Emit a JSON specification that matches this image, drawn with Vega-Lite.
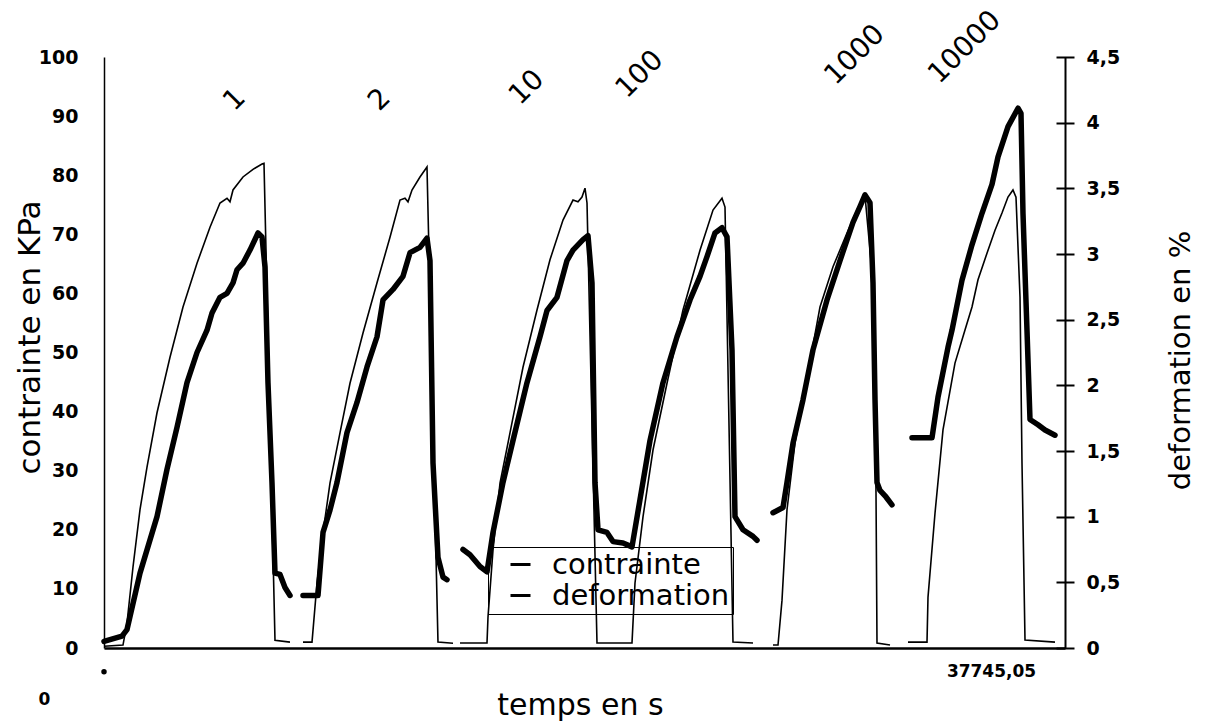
{
  "$schema": "https://vega.github.io/schema/vega-lite/v6.json",
  "width": 961,
  "height": 591,
  "autosize": "none",
  "padding": {"left": 104, "top": 57, "right": 158, "bottom": 79},
  "background": "white",
  "config": {"view": {"stroke": null}, "font": "DejaVu Sans", "axis": {"grid": false, "domainColor": "black", "labelColor": "black", "titleColor": "black", "tickColor": "black"}},
  "datasets": {
    "contrainte": [
      {"seg":"c1","t":0,"kpa":0.3},{"seg":"c1","t":746,"kpa":0.5},{"seg":"c1","t":903,"kpa":4.2},{"seg":"c1","t":1139,"kpa":13.7},{"seg":"c1","t":1414,"kpa":23.4},{"seg":"c1","t":1689,"kpa":30.6},{"seg":"c1","t":2082,"kpa":39.8},{"seg":"c1","t":2592,"kpa":49.2},{"seg":"c1","t":3103,"kpa":57.7},{"seg":"c1","t":3653,"kpa":65.1},{"seg":"c1","t":4163,"kpa":71.2},{"seg":"c1","t":4556,"kpa":75.3},{"seg":"c1","t":4831,"kpa":76.1},{"seg":"c1","t":4949,"kpa":75.5},{"seg":"c1","t":5067,"kpa":77.5},{"seg":"c1","t":5459,"kpa":79.7},{"seg":"c1","t":5852,"kpa":81.0},{"seg":"c1","t":6206,"kpa":81.9},{"seg":"c1","t":6284,"kpa":82.0},{"seg":"c1","t":6716,"kpa":1.3},{"seg":"c1","t":7305,"kpa":1.0},
      {"seg":"c2","t":7816,"kpa":1.0},{"seg":"c2","t":8170,"kpa":1.0},{"seg":"c2","t":8366,"kpa":11.0},{"seg":"c2","t":8602,"kpa":19.5},{"seg":"c2","t":8876,"kpa":27.9},{"seg":"c2","t":9269,"kpa":36.4},{"seg":"c2","t":9662,"kpa":44.8},{"seg":"c2","t":10173,"kpa":53.3},{"seg":"c2","t":10723,"kpa":61.8},{"seg":"c2","t":11233,"kpa":69.5},{"seg":"c2","t":11626,"kpa":75.8},{"seg":"c2","t":11822,"kpa":76.1},{"seg":"c2","t":11940,"kpa":75.5},{"seg":"c2","t":12097,"kpa":77.5},{"seg":"c2","t":12411,"kpa":79.7},{"seg":"c2","t":12686,"kpa":81.4},{"seg":"c2","t":13118,"kpa":1.0},{"seg":"c2","t":13708,"kpa":0.8},
      {"seg":"c3","t":13983,"kpa":0.85},{"seg":"c3","t":15043,"kpa":0.85},{"seg":"c3","t":15082,"kpa":5.2},{"seg":"c3","t":15279,"kpa":16.6},{"seg":"c3","t":15554,"kpa":27.9},{"seg":"c3","t":15946,"kpa":36.4},{"seg":"c3","t":16457,"kpa":47.5},{"seg":"c3","t":17007,"kpa":57.2},{"seg":"c3","t":17517,"kpa":65.7},{"seg":"c3","t":18028,"kpa":72.4},{"seg":"c3","t":18421,"kpa":75.8},{"seg":"c3","t":18617,"kpa":75.5},{"seg":"c3","t":18774,"kpa":76.3},{"seg":"c3","t":18892,"kpa":77.8},{"seg":"c3","t":18971,"kpa":75.3},{"seg":"c3","t":19363,"kpa":0.85},{"seg":"c3","t":20738,"kpa":0.85},{"seg":"c3","t":20856,"kpa":11.0},{"seg":"c3","t":21170,"kpa":22.2},{"seg":"c3","t":21563,"kpa":33.5},{"seg":"c3","t":22113,"kpa":44.8},{"seg":"c3","t":22741,"kpa":57.2},{"seg":"c3","t":23409,"kpa":67.3},{"seg":"c3","t":23920,"kpa":74.1},{"seg":"c3","t":24273,"kpa":76.1},{"seg":"c3","t":24391,"kpa":74.6},{"seg":"c3","t":24705,"kpa":1.0},{"seg":"c3","t":25491,"kpa":0.85},
      {"seg":"c5","t":26276,"kpa":0.5},{"seg":"c5","t":26473,"kpa":0.5},{"seg":"c5","t":26630,"kpa":8.1},{"seg":"c5","t":26826,"kpa":23.4},{"seg":"c5","t":27140,"kpa":34.7},{"seg":"c5","t":27454,"kpa":42.0},{"seg":"c5","t":28122,"kpa":57.7},{"seg":"c5","t":28633,"kpa":64.5},{"seg":"c5","t":29183,"kpa":70.2},{"seg":"c5","t":29575,"kpa":74.1},{"seg":"c5","t":29811,"kpa":76.0},{"seg":"c5","t":29890,"kpa":76.5},{"seg":"c5","t":30204,"kpa":61.8},{"seg":"c5","t":30283,"kpa":42.0},{"seg":"c5","t":30322,"kpa":26.2},{"seg":"c5","t":30361,"kpa":0.85},{"seg":"c5","t":30872,"kpa":0.5},
      {"seg":"c6","t":31578,"kpa":1.0},{"seg":"c6","t":32325,"kpa":1.0},{"seg":"c6","t":32364,"kpa":8.6},{"seg":"c6","t":32639,"kpa":22.8},{"seg":"c6","t":32953,"kpa":36.9},{"seg":"c6","t":33424,"kpa":48.2},{"seg":"c6","t":33817,"kpa":53.8},{"seg":"c6","t":34092,"kpa":57.7},{"seg":"c6","t":34328,"kpa":62.3},{"seg":"c6","t":34681,"kpa":66.8},{"seg":"c6","t":34996,"kpa":70.7},{"seg":"c6","t":35270,"kpa":73.6},{"seg":"c6","t":35506,"kpa":76.3},{"seg":"c6","t":35702,"kpa":77.5},{"seg":"c6","t":35820,"kpa":76.3},{"seg":"c6","t":35978,"kpa":59.4},{"seg":"c6","t":36056,"kpa":31.3},{"seg":"c6","t":36174,"kpa":1.35},{"seg":"c6","t":37352,"kpa":1.0}
    ],
    "deformation": [
      {"seg":"d1","t":0,"pct":0.05},{"seg":"d1","t":707,"pct":0.09},{"seg":"d1","t":903,"pct":0.14},{"seg":"d1","t":1414,"pct":0.57},{"seg":"d1","t":2082,"pct":1.0},{"seg":"d1","t":2474,"pct":1.36},{"seg":"d1","t":2867,"pct":1.68},{"seg":"d1","t":3260,"pct":2.02},{"seg":"d1","t":3653,"pct":2.25},{"seg":"d1","t":4046,"pct":2.42},{"seg":"d1","t":4242,"pct":2.55},{"seg":"d1","t":4556,"pct":2.67},{"seg":"d1","t":4831,"pct":2.7},{"seg":"d1","t":5067,"pct":2.78},{"seg":"d1","t":5224,"pct":2.88},{"seg":"d1","t":5459,"pct":2.93},{"seg":"d1","t":5734,"pct":3.03},{"seg":"d1","t":6049,"pct":3.16},{"seg":"d1","t":6206,"pct":3.13},{"seg":"d1","t":6324,"pct":2.9},{"seg":"d1","t":6441,"pct":2.02},{"seg":"d1","t":6598,"pct":1.26},{"seg":"d1","t":6716,"pct":0.57},{"seg":"d1","t":6913,"pct":0.56},{"seg":"d1","t":7109,"pct":0.46},{"seg":"d1","t":7305,"pct":0.40},
      {"seg":"d2","t":7816,"pct":0.40},{"seg":"d2","t":8405,"pct":0.40},{"seg":"d2","t":8602,"pct":0.88},{"seg":"d2","t":8876,"pct":1.05},{"seg":"d2","t":9151,"pct":1.26},{"seg":"d2","t":9544,"pct":1.64},{"seg":"d2","t":9937,"pct":1.87},{"seg":"d2","t":10330,"pct":2.14},{"seg":"d2","t":10723,"pct":2.37},{"seg":"d2","t":10958,"pct":2.65},{"seg":"d2","t":11351,"pct":2.73},{"seg":"d2","t":11744,"pct":2.83},{"seg":"d2","t":12019,"pct":3.01},{"seg":"d2","t":12411,"pct":3.05},{"seg":"d2","t":12686,"pct":3.12},{"seg":"d2","t":12804,"pct":2.95},{"seg":"d2","t":12922,"pct":1.41},{"seg":"d2","t":13118,"pct":0.69},{"seg":"d2","t":13315,"pct":0.54},{"seg":"d2","t":13472,"pct":0.52},
      {"seg":"d3","t":14100,"pct":0.75},{"seg":"d3","t":14375,"pct":0.71},{"seg":"d3","t":14768,"pct":0.62},{"seg":"d3","t":15043,"pct":0.58},{"seg":"d3","t":15279,"pct":0.88},{"seg":"d3","t":15671,"pct":1.26},{"seg":"d3","t":16064,"pct":1.58},{"seg":"d3","t":16614,"pct":2.02},{"seg":"d3","t":17125,"pct":2.37},{"seg":"d3","t":17400,"pct":2.57},{"seg":"d3","t":17792,"pct":2.67},{"seg":"d3","t":18185,"pct":2.95},{"seg":"d3","t":18421,"pct":3.03},{"seg":"d3","t":18814,"pct":3.11},{"seg":"d3","t":19010,"pct":3.14},{"seg":"d3","t":19167,"pct":2.78},{"seg":"d3","t":19285,"pct":1.26},{"seg":"d3","t":19403,"pct":0.90},{"seg":"d3","t":19756,"pct":0.88},{"seg":"d3","t":19992,"pct":0.81},{"seg":"d3","t":20385,"pct":0.80},{"seg":"d3","t":20738,"pct":0.77},{"seg":"d3","t":21052,"pct":1.13},{"seg":"d3","t":21445,"pct":1.58},{"seg":"d3","t":21956,"pct":2.02},{"seg":"d3","t":22506,"pct":2.37},{"seg":"d3","t":23016,"pct":2.65},{"seg":"d3","t":23409,"pct":2.83},{"seg":"d3","t":23684,"pct":2.98},{"seg":"d3","t":23998,"pct":3.16},{"seg":"d3","t":24273,"pct":3.2},{"seg":"d3","t":24470,"pct":3.13},{"seg":"d3","t":24666,"pct":2.27},{"seg":"d3","t":24784,"pct":1.0},{"seg":"d3","t":25098,"pct":0.90},{"seg":"d3","t":25491,"pct":0.85},{"seg":"d3","t":25648,"pct":0.82},
      {"seg":"d5","t":26276,"pct":1.03},{"seg":"d5","t":26669,"pct":1.07},{"seg":"d5","t":26826,"pct":1.26},{"seg":"d5","t":27062,"pct":1.56},{"seg":"d5","t":27454,"pct":1.89},{"seg":"d5","t":27847,"pct":2.27},{"seg":"d5","t":28397,"pct":2.65},{"seg":"d5","t":28908,"pct":2.95},{"seg":"d5","t":29418,"pct":3.24},{"seg":"d5","t":29693,"pct":3.36},{"seg":"d5","t":29890,"pct":3.45},{"seg":"d5","t":30086,"pct":3.39},{"seg":"d5","t":30204,"pct":2.78},{"seg":"d5","t":30283,"pct":1.89},{"seg":"d5","t":30361,"pct":1.26},{"seg":"d5","t":30479,"pct":1.2},{"seg":"d5","t":30715,"pct":1.15},{"seg":"d5","t":30950,"pct":1.09},
      {"seg":"d6","t":31736,"pct":1.6},{"seg":"d6","t":32521,"pct":1.6},{"seg":"d6","t":32757,"pct":1.91},{"seg":"d6","t":33150,"pct":2.29},{"seg":"d6","t":33307,"pct":2.42},{"seg":"d6","t":33699,"pct":2.8},{"seg":"d6","t":34092,"pct":3.07},{"seg":"d6","t":34485,"pct":3.31},{"seg":"d6","t":34878,"pct":3.53},{"seg":"d6","t":35114,"pct":3.74},{"seg":"d6","t":35506,"pct":3.97},{"seg":"d6","t":35899,"pct":4.11},{"seg":"d6","t":36017,"pct":4.07},{"seg":"d6","t":36095,"pct":3.31},{"seg":"d6","t":36252,"pct":2.42},{"seg":"d6","t":36370,"pct":1.74},{"seg":"d6","t":36685,"pct":1.70},{"seg":"d6","t":36960,"pct":1.66},{"seg":"d6","t":37352,"pct":1.62}
    ],
    "cycles": [
      {"t":5145,"kpa":92.7,"label":"1"},
      {"t":10840,"kpa":92.7,"label":"2"},
      {"t":16614,"kpa":94.8,"label":"10"},
      {"t":21052,"kpa":97.0,"label":"100"},
      {"t":29497,"kpa":100.3,"label":"1000"},
      {"t":33817,"kpa":101.6,"label":"10000"}
    ],
    "origin": [{"t":0,"kpa":-4}]
  },
  "encoding": {
    "x": {
      "field": "t", "type": "quantitative",
      "scale": {"domain": [0, 37745.05], "nice": false, "zero": false},
      "axis": {
        "values": [0, 37745.05],
        "labelExpr": "datum.value == 0 ? '0' : '37745,05'",
        "ticks": false,
        "domainWidth": 2.5,
        "labelFontSize": 17, "labelFontWeight": "bold",
        "labelFlush": false, "labelOverlap": false,
        "labelBaseline": "middle",
        "labelOffset": {"condition": {"test": "datum.value == 0", "value": -60}, "value": -74},
        "labelPadding": {"condition": {"test": "datum.value == 0", "value": 51}, "value": 23},
        "title": "temps en s",
        "titleFontSize": 30, "titleFontWeight": "normal",
        "titleX": 476, "titleY": 57, "titleBaseline": "middle", "titleAlign": "center"
      }
    }
  },
  "layer": [
    {
      "encoding": {
        "y": {
          "field": "kpa", "type": "quantitative",
          "scale": {"domain": [0, 100], "nice": false},
          "axis": {
            "orient": "left",
            "values": [0,10,20,30,40,50,60,70,80,90,100],
            "ticks": false,
            "domainWidth": 1.5,
            "labelFontSize": 19, "labelFontWeight": "bold", "labelPadding": 26,
            "title": "contrainte en KPa",
            "titleFontSize": 31, "titleFontWeight": "normal",
            "titleAngle": 270, "titleX": -74, "titleY": 280, "titleAlign": "center", "titleBaseline": "middle"
          }
        }
      },
      "layer": [
        {
          "data": {"name": "contrainte"},
          "mark": {"type": "line", "strokeWidth": 1.6},
          "encoding": {
            "detail": {"field": "seg"},
            "color": {
              "datum": "contrainte",
              "scale": {"domain": ["contrainte", "deformation"], "range": ["black", "black"]},
              "legend": {
                "orient": "none", "legendX": 384, "legendY": 490,
                "title": null,
                "strokeColor": "black", "padding": 3,
                "symbolType": "stroke", "symbolSize": 400, "symbolStrokeWidth": 3, "symbolOffset": 15,
                "labelFontSize": 29, "labelColor": "black", "labelOffset": 17, "rowPadding": 1, "labelLimit": 0
              }
            }
          }
        },
        {
          "data": {"name": "cycles"},
          "mark": {"type": "text", "angle": -45, "fontSize": 28, "align": "center", "baseline": "middle", "color": "black"},
          "encoding": {"text": {"field": "label"}}
        },
        {
          "data": {"name": "origin"},
          "mark": {"type": "circle", "size": 30, "color": "black", "opacity": 1}
        }
      ]
    },
    {
      "data": {"name": "deformation"},
      "mark": {"type": "line", "strokeWidth": 5.5, "strokeCap": "round", "strokeJoin": "round"},
      "encoding": {
        "detail": {"field": "seg"},
        "color": {"datum": "deformation"},
        "y": {
          "field": "pct", "type": "quantitative",
          "scale": {"domain": [0, 4.5], "nice": false},
          "axis": {
            "orient": "right",
            "values": [0,0.5,1,1.5,2,2.5,3,3.5,4,4.5],
            "labelExpr": "replace(toString(datum.value), '.', ',')",
            "tickSize": 9, "tickWidth": 2, "domainWidth": 2,
            "encoding": {"ticks": {"x": {"value": -9}}},
            "labelFontSize": 19, "labelFontWeight": "bold", "labelPadding": 12,
            "title": "deformation en %",
            "titleFontSize": 29, "titleFontWeight": "normal",
            "titleAngle": 270, "titleX": 115, "titleY": 303, "titleAlign": "center", "titleBaseline": "middle"
          }
        }
      }
    }
  ],
  "resolve": {"scale": {"y": "independent"}}
}
